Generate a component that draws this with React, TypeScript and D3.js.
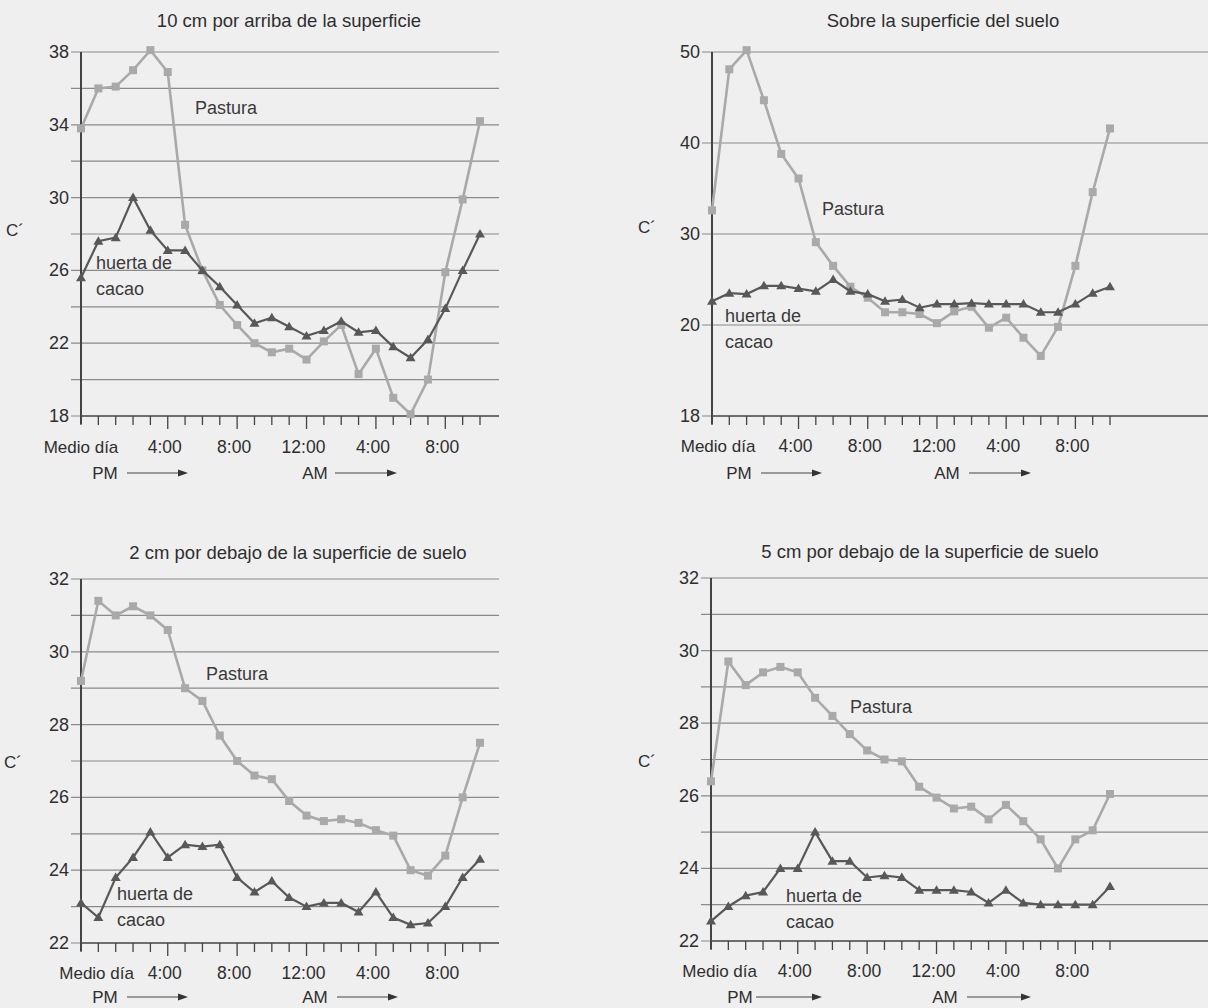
import React from "react";
import * as d3 from "d3";

// ---------- DATA ----------
// 24 hourly readings starting at noon
const hourIndex = [0,1,2,3,4,5,6,7,8,9,10,11,12,13,14,15,16,17,18,19,20,21,22,23];

const p1Pastura = [33.8,36.0,36.1,37.0,38.1,36.9,28.5,26.0,24.1,23.0,22.0,21.5,21.7,21.1,22.1,23.0,20.3,21.7,19.0,18.1,20.0,25.9,29.9,34.2];
const p1Cacao   = [25.6,27.6,27.8,30.0,28.2,27.1,27.1,26.0,25.1,24.1,23.1,23.4,22.9,22.4,22.7,23.2,22.6,22.7,21.8,21.2,22.2,23.9,26.0,28.0];

const p2Pastura = [32.6,48.1,50.2,44.7,38.8,36.1,29.1,26.5,24.2,23.0,21.4,21.4,21.2,20.2,21.5,22.0,19.7,20.8,18.6,16.6,19.8,26.5,34.6,41.6];
const p2Cacao   = [22.6,23.5,23.4,24.3,24.3,24.0,23.7,25.0,23.7,23.4,22.6,22.8,21.9,22.3,22.3,22.4,22.3,22.3,22.3,21.4,21.4,22.3,23.5,24.2];

const p3Pastura = [29.2,31.4,31.0,31.25,31.0,30.6,29.0,28.65,27.7,27.0,26.6,26.5,25.9,25.5,25.35,25.4,25.3,25.1,24.95,24.0,23.85,24.4,26.0,27.5];
const p3Cacao   = [23.1,22.7,23.8,24.35,25.05,24.35,24.7,24.65,24.7,23.8,23.4,23.7,23.25,23.0,23.1,23.1,22.85,23.4,22.7,22.5,22.55,23.0,23.8,24.3];

const p4Pastura = [26.4,29.7,29.05,29.4,29.55,29.4,28.7,28.2,27.7,27.25,27.0,26.95,26.25,25.95,25.65,25.7,25.35,25.75,25.3,24.8,24.0,24.8,25.05,26.05];
const p4Cacao   = [22.55,22.95,23.25,23.35,24.0,24.0,25.0,24.2,24.2,23.75,23.8,23.75,23.4,23.4,23.4,23.35,23.05,23.4,23.05,23.0,23.0,23.0,23.0,23.5];

const titles = [
  "10 cm por arriba de la superficie",
  "Sobre la superficie del suelo",
  "2 cm por debajo de la superficie de suelo",
  "5 cm por debajo de la superficie de suelo",
];

const xTickLabels = ["4:00", "8:00", "12:00", "4:00", "8:00"];
const xTickLabelIndex = [5, 9, 13, 17, 21];

const p1Grid = [18,20,22,24,26,28,30,32,34,36,38];
const p1Labels = [18,22,26,30,34,38];
const p2Grid = [10,20,30,40,50];
const p2Labels = [10,20,30,40,50];
const p2LabelText = ["18","20","30","40","50"];
const p34Grid = [22,23,24,25,26,27,28,29,30,31,32];
const p34Labels = [22,24,26,28,30,32];

const seriesNames = ["Pastura", "huerta de", "cacao"];

// ---------- STYLE ----------
const FONT = "'Liberation Sans', Arial, Helvetica, sans-serif";
const TEXT = "#2e2e2e";
const PAST = "#a9a9a9";
const CACAO = "#585858";
const GRID = "#8a8a8a";

type Panel = {
  title: string; titleX: number; titleY: number;
  ax: number; top: number; bottom: number; right: number; xEnd: number;
  yDomain: [number, number];
  grid: number[]; labels: number[]; labelText?: string[];
  past: number[]; cacao: number[];
  cX: number; cY: number;
  mdIdx: number;
  pastLbl: [number, number]; cacLbl: [number, number];
  xLblY: number; pmY: number;
  pm: [number, number, number]; am: [number, number, number];
};

const panels: Panel[] = [
  { title: titles[0], titleX: 289, titleY: 27, ax: 81, top: 52, bottom: 416, right: 499, xEnd: 480,
    yDomain: [18, 38], grid: p1Grid, labels: p1Labels, past: p1Pastura, cacao: p1Cacao,
    cX: 15, cY: 236, mdIdx: 0, pastLbl: [226, 114], cacLbl: [96, 269], xLblY: 453, pmY: 479,
    pm: [105, 127, 188], am: [315, 335, 397] },
  { title: titles[1], titleX: 943, titleY: 27, ax: 712, top: 52, bottom: 416, right: 1208, xEnd: 1110,
    yDomain: [10, 50], grid: p2Grid, labels: p2Labels, labelText: p2LabelText, past: p2Pastura, cacao: p2Cacao,
    cX: 647, cY: 233, mdIdx: 0.35, pastLbl: [853, 215], cacLbl: [725, 322], xLblY: 452, pmY: 479,
    pm: [739, 761, 822], am: [947, 969, 1031] },
  { title: titles[2], titleX: 298, titleY: 559, ax: 81, top: 579, bottom: 943, right: 499, xEnd: 480,
    yDomain: [22, 32], grid: p34Grid, labels: p34Labels, past: p3Pastura, cacao: p3Cacao,
    cX: 13, cY: 768, mdIdx: 0.9, pastLbl: [237, 680], cacLbl: [117, 900], xLblY: 979, pmY: 1003,
    pm: [105, 127, 188], am: [315, 337, 398] },
  { title: titles[3], titleX: 930, titleY: 558, ax: 711, top: 578, bottom: 941, right: 1208, xEnd: 1110,
    yDomain: [22, 32], grid: p34Grid, labels: p34Labels, past: p4Pastura, cacao: p4Cacao,
    cX: 647, cY: 767, mdIdx: 0.5, pastLbl: [881, 713], cacLbl: [786, 902], xLblY: 977, pmY: 1003,
    pm: [740, 756, 822], am: [945, 967, 1031] },
];

function Square({ x, y, c }: { x: number; y: number; c: string }) {
  return <rect x={x - 4} y={y - 4} width={8} height={8} fill={c} />;
}
function Tri({ x, y, c }: { x: number; y: number; c: string }) {
  const s = 5;
  return <path d={`M${x},${y - s}L${x + s},${y + s * 0.7}L${x - s},${y + s * 0.7}Z`} fill={c} />;
}

function ChartPanel({ p }: { p: Panel }) {
  const x = d3.scaleLinear().domain([0, 23]).range([p.ax, p.xEnd]);
  const y = d3.scaleLinear().domain(p.yDomain).range([p.bottom, p.top]);
  const line = d3.line<number>().x((_, i) => x(hourIndex[i])).y((d) => y(d));
  return (
    <g fontFamily={FONT} fill={TEXT}>
      <text x={p.titleX} y={p.titleY} textAnchor="middle" fontSize={18.5}>{p.title}</text>
      {p.grid.map((g) => (
        <line key={g} x1={p.ax - 10} x2={p.right} y1={y(g)} y2={y(g)} stroke={GRID} strokeWidth={1.2} />
      ))}
      {p.labels.map((g, i) => (
        <text key={g} x={p.ax - 12} y={y(g) + 6} textAnchor="end" fontSize={18}>
          {p.labelText ? p.labelText[i] : String(g)}
        </text>
      ))}
      <line x1={p.ax} x2={p.ax} y1={p.top} y2={p.bottom + 8} stroke="#444" strokeWidth={2} />
      <line x1={p.ax} x2={p.right} y1={p.bottom} y2={p.bottom} stroke="#555" strokeWidth={1.5} />
      {hourIndex.map((h) => (
        <line key={h} x1={x(h)} x2={x(h)} y1={p.bottom} y2={p.bottom + (xTickLabelIndex.includes(h) ? 13 : 9)}
          stroke="#444" strokeWidth={1.3} />
      ))}
      <text x={x(p.mdIdx)} y={p.xLblY} textAnchor="middle" fontSize={17}>Medio día</text>
      {xTickLabels.map((t, i) => (
        <text key={i} x={x(xTickLabelIndex[i]) - 3} y={p.xLblY} textAnchor="middle" fontSize={17.5}>{t}</text>
      ))}
      <text x={p.pm[0]} y={p.pmY} textAnchor="middle" fontSize={17}>PM</text>
      <line x1={p.pm[1]} x2={p.pm[2] - 8} y1={p.pmY - 6} y2={p.pmY - 6} stroke="#444" strokeWidth={1} />
      <path d={`M${p.pm[2]},${p.pmY - 6}L${p.pm[2] - 10},${p.pmY - 9.5}L${p.pm[2] - 10},${p.pmY - 2.5}Z`} fill="#333" />
      <text x={p.am[0]} y={p.pmY} textAnchor="middle" fontSize={17}>AM</text>
      <line x1={p.am[1]} x2={p.am[2] - 8} y1={p.pmY - 6} y2={p.pmY - 6} stroke="#444" strokeWidth={1} />
      <path d={`M${p.am[2]},${p.pmY - 6}L${p.am[2] - 10},${p.pmY - 9.5}L${p.am[2] - 10},${p.pmY - 2.5}Z`} fill="#333" />
      <text x={p.cX} y={p.cY} textAnchor="middle" fontSize={17}>C´</text>

      <path d={line(p.past) || ""} fill="none" stroke={PAST} strokeWidth={2.6} />
      {p.past.map((v, i) => <Square key={i} x={x(hourIndex[i])} y={y(v)} c={PAST} />)}
      <path d={line(p.cacao) || ""} fill="none" stroke={CACAO} strokeWidth={2.2} />
      {p.cacao.map((v, i) => <Tri key={i} x={x(hourIndex[i])} y={y(v)} c={CACAO} />)}

      <text x={p.pastLbl[0]} y={p.pastLbl[1]} textAnchor="middle" fontSize={18} fill="#3a3a3a">{seriesNames[0]}</text>
      <text x={p.cacLbl[0]} y={p.cacLbl[1]} fontSize={18} fill="#3a3a3a">{seriesNames[1]}</text>
      <text x={p.cacLbl[0]} y={p.cacLbl[1] + 26} fontSize={18} fill="#3a3a3a">{seriesNames[2]}</text>
    </g>
  );
}

export default function App() {
  return (
    <svg width={1208} height={1008} style={{ position: "absolute", left: 0, top: 0, display: "block" }}>
      <rect x={0} y={0} width={1208} height={1008} fill="#efefef" />
      {panels.map((p, i) => <ChartPanel key={i} p={p} />)}
    </svg>
  );
}
